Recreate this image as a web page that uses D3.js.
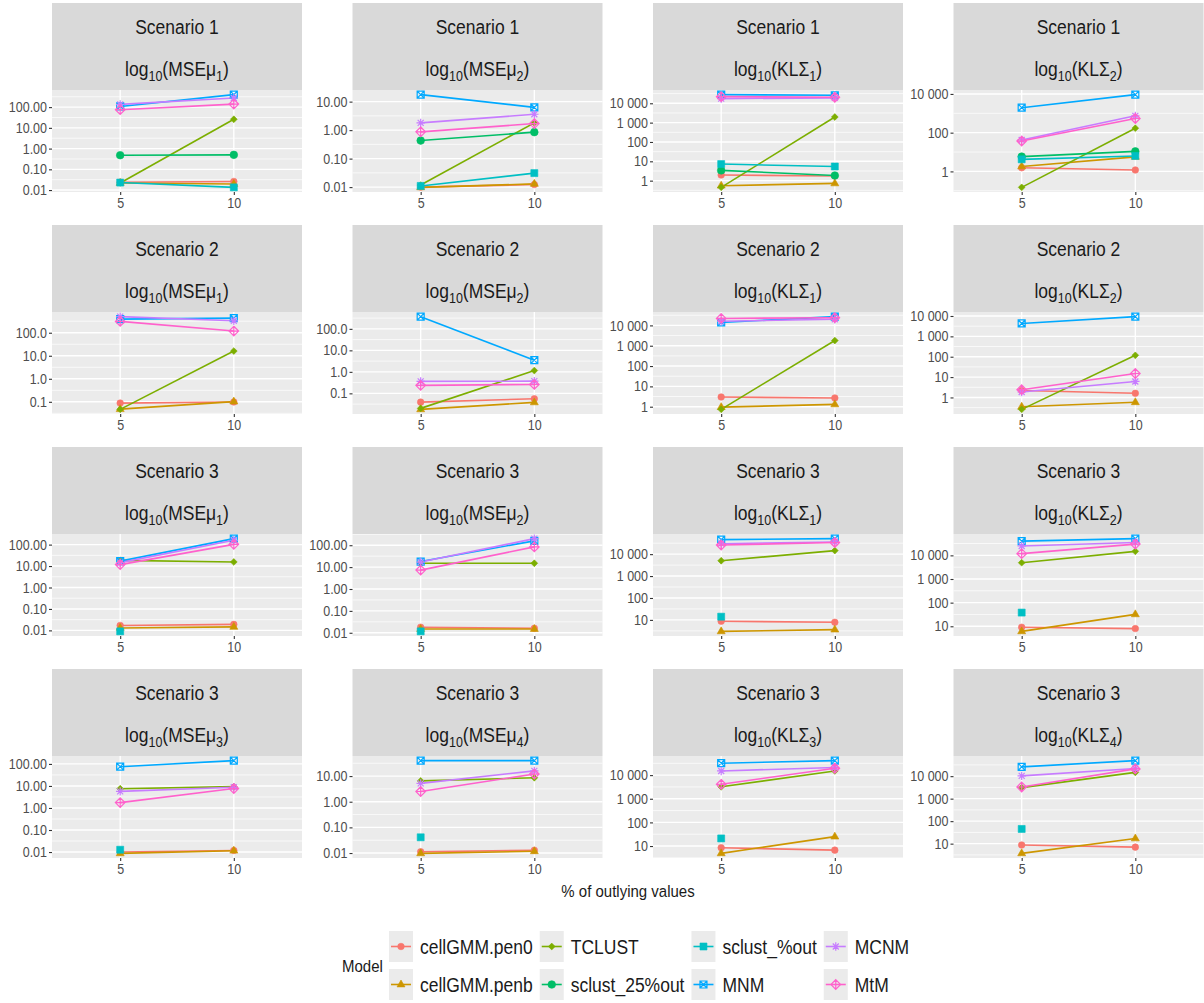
<!DOCTYPE html>
<html><head><meta charset="utf-8">
<script src="https://cdn.jsdelivr.net/npm/d3@7"></script>
<style>
body{margin:0;background:#fff}
svg{display:block}
text{font-family:"Liberation Sans",Arial,Helvetica,sans-serif}
</style>
</head><body>
<svg id="chart" width="1204" height="1003"></svg>
<script>
// ---------- data ----------
const models = ["cellGMM.pen0","cellGMM.penb","TCLUST","sclust_25%out","sclust_%out","MNM","MCNM","MtM"];
const modelColors = ["#F8766D","#CD9600","#7CAE00","#00BE67","#00BFC4","#00A9FF","#C77CFF","#FF61CC"];
const modelShapes = ["circle","triangle","diamond","bigcircle","square","squarecross","asterisk","diamondplus"];
const xLabels = ["5","10"];
const scenarioLabels = ["Scenario 1","Scenario 1","Scenario 1","Scenario 1",
                        "Scenario 2","Scenario 2","Scenario 2","Scenario 2",
                        "Scenario 3","Scenario 3","Scenario 3","Scenario 3",
                        "Scenario 3","Scenario 3","Scenario 3","Scenario 3"];
const metricNames = ["MSEμ","MSEμ","KLΣ","KLΣ","MSEμ","MSEμ","KLΣ","KLΣ",
                     "MSEμ","MSEμ","KLΣ","KLΣ","MSEμ","MSEμ","KLΣ","KLΣ"];
const metricIndex = ["1","2","1","2","1","2","1","2","1","2","1","2","3","4","3","4"];

const ticksMSE2 = [0.01,0.1,1,10,100];
const labsMSE2 = ["0.01","0.10","1.00","10.00","100.00"];
const ticksMSE2b = [0.01,0.1,1,10];
const labsMSE2b = ["0.01","0.10","1.00","10.00"];
const ticksMSE1 = [0.1,1,10,100];
const labsMSE1 = ["0.1","1.0","10.0","100.0"];
const ticksKL5 = [1,10,100,1000,10000];
const labsKL5 = ["1","10","100","1 000","10 000"];
const ticksKL3 = [1,100,10000];
const labsKL3 = ["1","100","10 000"];
const ticksKL4 = [10,100,1000,10000];
const labsKL4 = ["10","100","1 000","10 000"];
const yTickValues = [ticksMSE2,ticksMSE2b,ticksKL5,ticksKL3,
                     ticksMSE1,ticksMSE1,ticksKL5,ticksKL5,
                     ticksMSE2,ticksMSE2,ticksKL4,ticksKL4,
                     ticksMSE2,ticksMSE2b,ticksKL4,ticksKL4];
const yTickLabels = [labsMSE2,labsMSE2b,labsKL5,labsKL3,
                     labsMSE1,labsMSE1,labsKL5,labsKL5,
                     labsMSE2,labsMSE2,labsKL4,labsKL4,
                     labsMSE2,labsMSE2b,labsKL4,labsKL4];

// values per panel: [at 5%, at 10%]
const pen0 = [[0.024,0.026],[0.010,0.0123],[1.95,1.75],[1.55,1.18],
              [0.088,0.098],[0.039,0.056],[3.0,2.7],[2.2,1.6],
              [0.017,0.019],[0.018,0.016],[8.7,7.8],[9.1,8.0],
              [0.0101,0.0118],[0.0112,0.0128],[8.5,6.7],[8.7,7.0]];
const penb = [[0.022,0.0196],[0.0098,0.013],[0.55,0.72],[1.8,5.6],
              [0.048,0.102],[0.018,0.038],[0.95,1.3],[0.35,0.58],
              [0.013,0.0145],[0.0148,0.0148],[3.0,3.6],[6.1,32],
              [0.0087,0.0115],[0.0097,0.0117],[4.9,25],[3.7,17]];
const tclust = [[0.022,26],[0.0118,1.8],[0.45,1950],[0.15,170],
                [0.047,16],[0.02,1.15],[0.74,1800],[0.26,117],
                [18.5,15.5],[15,15],[5000,14500],[4900,14800],
                [7.5,9.3],[6.5,8.6],[3200,15000],[3100,14700]];
const sclust25 = [[0.48,0.5],[0.43,0.85],[3.4,1.85],[5.8,10.8],
                  [null,null],[null,null],[null,null],[null,null],
                  [null,null],[null,null],[null,null],[null,null],
                  [null,null],[null,null],[null,null],[null,null]];
const sclustOut = [[0.023,0.0135],[0.011,0.031],[7.2,5.4],[4.2,6.3],
                   [null,null],[null,null],[null,null],[null,null],
                   [0.009,null],[0.0116,null],[14,null],[38,null],
                   [0.0127,null],[0.041,null],[21,null],[45,null]];
const mnm = [[108,400],[17.6,6.3],[28000,26000],[1950,9200],
             [390,430],[370,3.5],[14000,27000],[4300,9300],
             [17,190],[18,158],[46000,51000],[40000,51000],
             [75,141],[40,40],[32000,41000],[26000,49000]];
const mcnm = [[135,275],[1.8,3.6],[17500,19000],[42,740],
              [500,330],[0.36,0.37],[16000,20000],[1.85,6.1],
              [14.5,160],[17,200],[30000,36000],[25000,35000],
              [5.7,8.7],[5.2,16],[15000,21000],[10300,22000]];
const mtm = [[75,140],[0.87,1.7],[22000,20500],[37,540],
             [310,118],[0.235,0.26],[22000,24000],[2.4,15],
             [11.7,103],[7.3,84],[26000,34000],[11800,30000],
             [1.75,7.6],[2.5,12],[4100,19500],[3300,21000]];
const seriesValues = [pen0,penb,tclust,sclust25,sclustOut,mnm,mcnm,mtm];

// ---------- layout ----------
const svg = d3.select("#chart");
const W = 250, PH = 102, SH = 87;
const colLeft = i => 52 + i*300.5;
const rowTop = r => 3 + r*222;
const FONT_STRIP = 17.5, FONT_TICK = 12.5, STRETCH = 1.15;

function stretchedText(parent, x, y){
  return parent.append("text").attr("transform", `translate(${x},${y}) scale(1,${STRETCH})`);
}

function shapePath(shape){
  switch(shape){
    case "circle": return {d:d3.symbol(d3.symbolCircle, 34)(), fill:true};
    case "bigcircle": return {d:d3.symbol(d3.symbolCircle, 46)(), fill:true};
    case "triangle": return {d:"M0,-4.5L4,2.4L-4,2.4Z", fill:true};
    case "diamond": return {d:"M0,-3.4L3.4,0L0,3.4L-3.4,0Z", fill:true};
    case "square": return {d:"M-3.5,-3.5H3.5V3.5H-3.5Z", fill:true};
    case "squarecross": return {d:"M-3.5,-3.5H3.5V3.5H-3.5ZM-3.5,-3.5L3.5,3.5M3.5,-3.5L-3.5,3.5", fill:false};
    case "asterisk": return {d:"M-4.2,0H4.2M0,-4.2V4.2M-3,-3L3,3M3,-3L-3,3", fill:false};
    case "diamondplus": return {d:"M0,-4.8L4.8,0L0,4.8L-4.8,0ZM-4.8,0H4.8M0,-4.8V4.8", fill:false};
  }
}
function drawShape(g, shape, color, x, y){
  const s = shapePath(shape);
  g.append("path").attr("d", s.d).attr("transform", `translate(${x},${y})`)
    .attr("fill", s.fill ? color : "none")
    .attr("stroke", color).attr("stroke-width", s.fill ? 0.6 : 1.2);
}

for (let p = 0; p < 16; p++){
  const r = Math.floor(p/4), c = p % 4;
  const x0 = colLeft(c), sy = rowTop(r), y0 = sy + SH;
  const g = svg.append("g").attr("transform", `translate(${x0},${y0})`);

  // strip
  const st = svg.append("g").attr("transform", `translate(${x0},${sy})`);
  st.append("rect").attr("width", W).attr("height", SH).attr("fill", "#D9D9D9");
  stretchedText(st, W/2, 31).attr("text-anchor","middle")
    .attr("font-size", FONT_STRIP).attr("fill","#1A1A1A").text(scenarioLabels[p]);
  const t2 = stretchedText(st, W/2, 73).attr("text-anchor","middle")
    .attr("font-size", FONT_STRIP).attr("fill","#1A1A1A");
  t2.append("tspan").text("log");
  t2.append("tspan").attr("font-size", 12.5).attr("dy", 4.5).text("10");
  t2.append("tspan").attr("dy", -4.5).text("(" + metricNames[p]);
  t2.append("tspan").attr("font-size", 12.5).attr("dy", 4.5).text(metricIndex[p]);
  t2.append("tspan").attr("dy", -4.5).text(")");

  // scales
  const vals = [];
  seriesValues.forEach(s => s[p].forEach(v => { if (v != null) vals.push(Math.log10(v)); }));
  const lo = d3.min(vals), hi = d3.max(vals), span = hi - lo;
  const y = d3.scaleLog().domain([Math.pow(10, lo - 0.05*span), Math.pow(10, hi + 0.05*span)]).range([PH, 0]);
  const x = d3.scalePoint().domain(xLabels).range([0, W]).padding(0.6);

  // panel bg
  g.append("rect").attr("width", W).attr("height", PH).attr("fill", "#EBEBEB");
  const tv = yTickValues[p];
  const stepL = Math.log10(tv[1]) - Math.log10(tv[0]);
  const minors = [];
  const [dLo, dHi] = y.domain().map(Math.log10);
  for (let k = Math.log10(tv[0]) - stepL/2; k <= dHi; k += stepL){
    if (k >= dLo) minors.push(Math.pow(10, k));
  }
  g.selectAll(".minor").data(minors).enter().append("line")
    .attr("x1", 0).attr("x2", W).attr("y1", d => y(d)).attr("y2", d => y(d))
    .attr("stroke", "#fff").attr("stroke-width", 0.7);
  g.selectAll(".major").data(tv).enter().append("line")
    .attr("x1", 0).attr("x2", W).attr("y1", d => y(d)).attr("y2", d => y(d))
    .attr("stroke", "#fff").attr("stroke-width", 1.4);
  g.selectAll(".vmajor").data(xLabels).enter().append("line")
    .attr("x1", d => x(d)).attr("x2", d => x(d)).attr("y1", 0).attr("y2", PH)
    .attr("stroke", "#fff").attr("stroke-width", 1.4);

  // y axis
  const ya = g.append("g").call(d3.axisLeft(y).tickValues(tv)
        .tickFormat((d,i) => yTickLabels[p][i]).tickSize(3).tickPadding(2));
  ya.select(".domain").remove();
  ya.selectAll(".tick line").attr("stroke", "#333").attr("stroke-width", 1.1);
  ya.selectAll(".tick text").attr("fill", "#4D4D4D").attr("font-size", FONT_TICK)
    .attr("font-family", '"Liberation Sans",Arial,sans-serif')
    .attr("transform", `scale(1,${STRETCH})`);
  // x axis
  const xa = g.append("g").attr("transform", `translate(0,${PH})`)
    .call(d3.axisBottom(x).tickSize(3).tickPadding(2));
  xa.select(".domain").remove();
  xa.selectAll(".tick line").attr("stroke", "#333").attr("stroke-width", 1.1);
  xa.selectAll(".tick text").attr("fill", "#4D4D4D").attr("font-size", FONT_TICK)
    .attr("font-family", '"Liberation Sans",Arial,sans-serif')
    .attr("transform", `scale(1,${STRETCH})`);

  // lines
  seriesValues.forEach((s, m) => {
    const v = s[p];
    if (v[0] != null && v[1] != null){
      g.append("line").attr("x1", x(xLabels[0])).attr("x2", x(xLabels[1]))
        .attr("y1", y(v[0])).attr("y2", y(v[1]))
        .attr("stroke", modelColors[m]).attr("stroke-width", 1.6);
    }
  });
  // points
  seriesValues.forEach((s, m) => {
    s[p].forEach((v, i) => {
      if (v != null) drawShape(g, modelShapes[m], modelColors[m], x(xLabels[i]), y(v));
    });
  });
}

// axis title
stretchedText(svg, 628, 897).attr("text-anchor", "middle")
  .attr("font-size", 15).attr("fill", "#1A1A1A").text("% of outlying values");

// legend
const lg = svg.append("g");
stretchedText(lg, 342, 972).attr("font-size", 15).attr("fill", "#1A1A1A").text("Model");
const keyTops = [931, 969], keyW = 24, keyH = 31;
let kx = 389;
for (let col = 0; col < 4; col++){
  let maxW = 0;
  for (let row = 0; row < 2; row++){
    const m = col*2 + row;
    const ky = keyTops[row];
    lg.append("rect").attr("x", kx).attr("y", ky).attr("width", keyW).attr("height", keyH).attr("fill", "#EBEBEB");
    lg.append("line").attr("x1", kx+2).attr("x2", kx+keyW-2).attr("y1", ky+keyH/2).attr("y2", ky+keyH/2)
      .attr("stroke", modelColors[m]).attr("stroke-width", 1.6);
    drawShape(lg, modelShapes[m], modelColors[m], kx+keyW/2, ky+keyH/2);
    const t = stretchedText(lg, kx+31, ky+keyH/2+7)
      .attr("font-size", 17.5).attr("fill", "#1A1A1A").text(models[m]);
    maxW = Math.max(maxW, t.node().getComputedTextLength());
  }
  kx = kx + 31 + maxW + 7;
}
</script>
</body></html>
